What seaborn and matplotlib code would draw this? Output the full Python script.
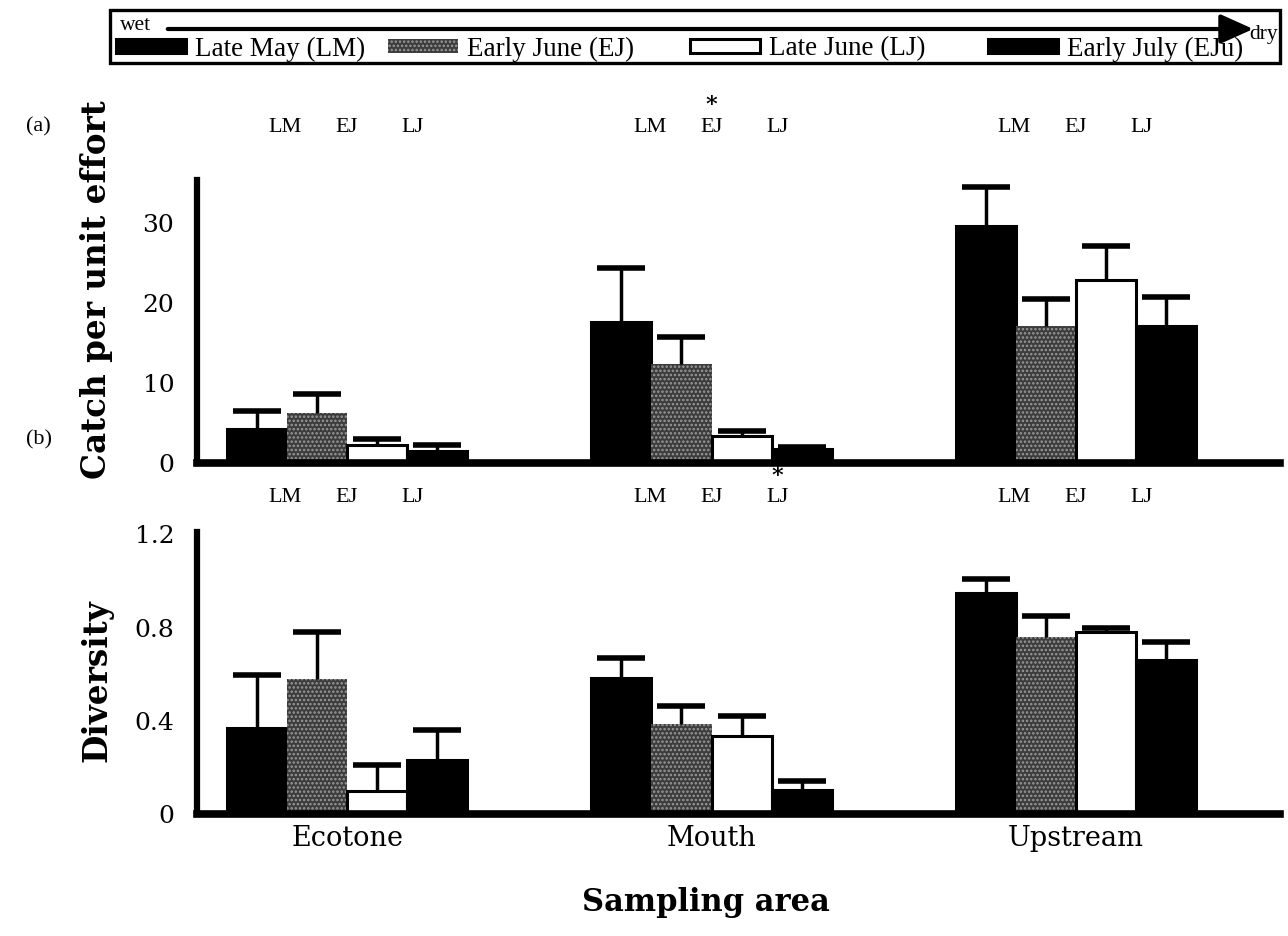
import matplotlib
matplotlib.use("Agg")
import matplotlib.pyplot as plt
from matplotlib.patches import Rectangle, FancyArrowPatch
import numpy as np
import pandas as pd
import seaborn as sns

areas = ["Ecotone", "Mouth", "Upstream"]
periods = ["Late May (LM)", "Early June (EJ)", "Late June (LJ)", "Early July (EJu)"]
period_tags = ["LM", "EJ", "LJ"]

# rows = sampling area, columns = period (LM, EJ, LJ, EJu)
cpue_mean = [[4.2, 6.2, 2.2, 1.5],
             [17.6, 12.4, 3.4, 1.8],
             [29.7, 17.2, 22.9, 17.2]]
cpue_se = [[2.3, 2.4, 0.8, 0.7],
           [6.8, 3.4, 0.6, 0.2],
           [4.8, 3.3, 4.3, 3.6]]
div_mean = [[0.37, 0.58, 0.10, 0.23],
            [0.585, 0.385, 0.335, 0.105],
            [0.95, 0.76, 0.78, 0.66]]
div_se = [[0.225, 0.20, 0.11, 0.13],
          [0.085, 0.08, 0.085, 0.035],
          [0.06, 0.09, 0.02, 0.08]]

cpue_ticks = [0, 10, 20, 30]
cpue_ticklabels = ["0", "10", "20", "30"]
div_ticks = [0, 0.4, 0.8, 1.2]
div_ticklabels = ["0", "0.4", "0.8", "1.2"]

# significant differences (area, period tag) marked with *
cpue_stars = [("Mouth", "EJ")]
div_stars = [("Mouth", "LJ")]

sns.set_style("white")
plt.rcParams['font.family'] = ['DejaVu Serif']
plt.rcParams['hatch.linewidth'] = 1.2
for key in ["text.color", "axes.labelcolor", "xtick.color", "ytick.color"]:
    plt.rcParams[key] = "black"

palette = ["black", "#3c3c3c", "white", "black"]


def long_table(means, ses):
    rows = []
    for i, a in enumerate(areas):
        for j, p in enumerate(periods):
            rows.append({"area": a, "period": p, "value": means[i][j], "se": ses[i][j]})
    return pd.DataFrame(rows)


def draw_panel(ax, means, ses, ymax, ticks, ticklabels, tag_y, star_y, stars):
    df = long_table(means, ses)
    sns.barplot(data=df, x="area", y="value", hue="period", order=areas,
                hue_order=periods, palette=palette, width=0.66, gap=0,
                errorbar=None, edgecolor="black", linewidth=2.2, saturation=1,
                legend=False, ax=ax)
    bar_conts = list(ax.containers)
    # gray stippled bars for Early June
    for bar in bar_conts[1]:
        bar.set_hatch("....")
        bar.set_edgecolor("#9a9a9a")
        bar.set_linewidth(0)
    # one-sided error bars from bar tops (upper cap only)
    for k, cont in enumerate(bar_conts):
        sub = df[df["period"] == periods[k]].set_index("area").loc[areas]
        xs = [b.get_x() + b.get_width() / 2 for b in cont]
        eb = ax.errorbar(xs, sub["value"], yerr=[np.zeros(len(xs)), sub["se"]],
                         fmt="none", ecolor="black", elinewidth=2.5, capsize=17,
                         capthick=4, zorder=1)
        for cap in eb[1]:
            if np.allclose(cap.get_ydata(), sub["value"].to_numpy()):
                cap.set_visible(False)
    ax.set_xlim(-0.4115, 2.56)
    ax.set_ylim(0, ymax)
    ax.set_yticks(ticks)
    ax.set_yticklabels(ticklabels, fontsize=18)
    ax.tick_params(axis="y", direction="inout", length=9, width=3, pad=12)
    ax.tick_params(axis="x", length=0, labelsize=19.5, pad=8)
    ax.set_xlabel("")
    ax.set_ylabel("")
    for s in ["top", "right"]:
        ax.spines[s].set_visible(False)
    ax.spines["left"].set_linewidth(4.5)
    ax.spines["bottom"].set_linewidth(5.5)
    ax.spines["left"].set_color("black")
    ax.spines["bottom"].set_color("black")
    offsets = [-0.17, 0.0, 0.18]
    for i, a in enumerate(areas):
        for t, off in zip(period_tags, offsets):
            ax.text(i + off, tag_y, t, ha="center", va="center", fontsize=16,
                    family="Liberation Serif", clip_on=False)
            if (a, t) in stars:
                ax.text(i + off, star_y, "*", ha="center", va="center",
                        fontsize=16, fontweight="bold", clip_on=False, zorder=10)
    return bar_conts


fig = plt.figure(figsize=(12.88, 9.36), dpi=100)
ax_a = fig.add_axes([0.153, 0.5053, 0.8409, 0.3024])
ax_b = fig.add_axes([0.153, 0.1303, 0.8409, 0.3013])

conts_a = draw_panel(ax_a, cpue_mean, cpue_se, 35.4, cpue_ticks, cpue_ticklabels,
                     42.0, 44.8, cpue_stars)
draw_panel(ax_b, div_mean, div_se, 1.21, div_ticks, div_ticklabels, 1.36, 1.45,
           div_stars)
ax_a.set_xticklabels([])

fig.text(0.075, 1 - 290 / 936, "Catch per unit effort", rotation=90, ha="center",
         va="center", fontsize=23.5, fontweight="bold")
fig.text(0.075, 1 - 681 / 936, "Diversity", rotation=90, ha="center",
         va="center", fontsize=23.5, fontweight="bold")
fig.text(0.548, 1 - 903 / 936, "Sampling area", ha="center", va="center",
         fontsize=22, fontweight="bold")
fig.text(0.02, 1 - 127 / 936, "(a)", ha="left", va="center", fontsize=16,
         family="Liberation Serif")
fig.text(0.02, 1 - 440 / 936, "(b)", ha="left", va="center", fontsize=16,
         family="Liberation Serif")

# legend box with wet -> dry arrow
fig.add_artist(Rectangle((110 / 1288, 1 - 63 / 936), 1170 / 1288, 53 / 936,
                         transform=fig.transFigure, fill=False, lw=2.4,
                         edgecolor="black"))
fig.add_artist(FancyArrowPatch((165 / 1288, 1 - 29 / 936), (1256 / 1288, 1 - 29 / 936),
                               transform=fig.transFigure,
                               arrowstyle="-|>,head_length=1.0,head_width=0.45",
                               mutation_scale=20, lw=3, color="black"))
fig.text(120 / 1288, 1 - 26 / 936, "wet", ha="left", va="center", fontsize=15.5,
         family="Liberation Serif")
fig.text(1278 / 1288, 1 - 35 / 936, "dry", ha="right", va="center", fontsize=15.5,
         family="Liberation Serif")

# one legend entry per period, spread across the box
legend_x = [116, 388, 690, 988]
for k in range(4):
    fig.legend([conts_a[k][0]], [periods[k]], loc="center left",
               bbox_to_anchor=(legend_x[k] / 1288, 1 - 49 / 936), frameon=False,
               prop={"family": "Liberation Serif", "size": 19.5}, handlelength=2.6,
               handleheight=0.45, handletextpad=0.3, borderaxespad=0, borderpad=0)

fig.savefig("out.png", dpi=100)
